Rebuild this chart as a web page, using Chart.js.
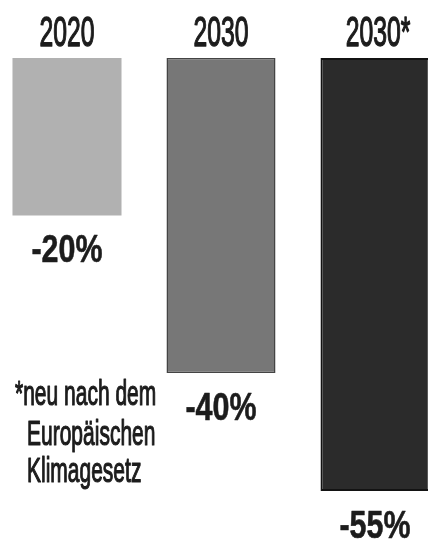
<!DOCTYPE html>
<html>
<head>
<meta charset="utf-8">
<script src="https://cdn.jsdelivr.net/npm/chart.js@4/dist/chart.umd.min.js"></script>
<style>
  html, body { margin: 0; padding: 0; background: #ffffff; overflow: hidden; width: 428px; height: 543px; }
  #wrap { position: absolute; left: -10px; top: 0; width: 462px; height: 543px; }
  canvas { display: block; }
</style>
</head>
<body>
<div id="wrap"><canvas id="c" width="462" height="543"></canvas></div>
<script>
const categories = ['2020', '2030', '2030*'];
const values = [-20, -40, -55];
const valueLabels = ['-20%', '-40%', '-55%'];
const footnoteLines = ['*neu nach dem', 'Europäischen', 'Klimagesetz'];
const barColors = ['#b1b1b1', '#777777', '#2b2b2b'];
const barBorders = ['#adadad', '#444444', '#131313'];

const FONT = '"Liberation Sans", Arial, sans-serif';

function drawScaledText(ctx, text, x, y, font, sx, align, strokeW) {
  ctx.save();
  ctx.font = font;
  ctx.textBaseline = 'alphabetic';
  ctx.textAlign = 'left';
  const w = ctx.measureText(text).width * sx;
  let left = x;
  if (align === 'center') left = x - w / 2;
  ctx.translate(left, y);
  ctx.scale(sx, 1);
  ctx.fillText(text, 0, 0);
  if (strokeW) {
    ctx.lineWidth = strokeW;
    ctx.lineJoin = 'round';
    ctx.strokeStyle = ctx.fillStyle;
    ctx.strokeText(text, 0, 0);
  }
  ctx.restore();
}

const labelPlugin = {
  id: 'labels',
  afterDatasetsDraw(chart) {
    const ctx = chart.ctx;
    const xs = chart.scales.x;
    const meta = chart.getDatasetMeta(0);
    ctx.fillStyle = '#1c1c1c';
    categories.forEach((c, i) => {
      const cx = xs.getPixelForValue(i) + (i === 2 ? 3 : 0);
      drawScaledText(ctx, c, cx, 46, '43px ' + FONT, 0.575, 'center', 1.4);
    });
    meta.data.forEach((bar, i) => {
      drawScaledText(ctx, valueLabels[i], bar.x, bar.y + 47, 'bold 39px ' + FONT, 0.78, 'center', 0.6);
    });
    const lineY = [405, 445, 482];
    footnoteLines.forEach((t, i) => {
      const x0 = i === 0 ? 25 : 37;
      drawScaledText(ctx, t, x0, lineY[i], '35px ' + FONT, 0.60, 'left', 1.2);
    });
  }
};

new Chart(document.getElementById('c'), {
  type: 'bar',
  data: {
    labels: categories,
    datasets: [{
      data: values,
      backgroundColor: barColors,
      borderColor: barBorders,
      borderWidth: [0, 1.5, 2],
      borderSkipped: false,
      categoryPercentage: 1.0,
      barPercentage: 0.708
    }]
  },
  options: {
    responsive: false,
    animation: false,
    devicePixelRatio: 1,
    layout: { padding: { top: 58, bottom: 0, left: 0, right: 0 } },
    plugins: { legend: { display: false }, tooltip: { enabled: false } },
    scales: {
      x: { display: false },
      y: { display: false, min: -61.6, max: 0 }
    }
  },
  plugins: [labelPlugin]
});
</script>
</body>
</html>
